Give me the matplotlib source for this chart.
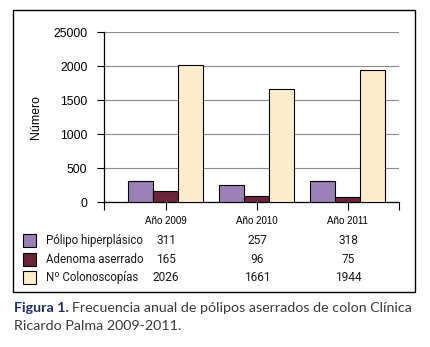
import matplotlib.pyplot as plt
from matplotlib.patches import Rectangle
import numpy as np

years = ['Año 2009', 'Año 2010', 'Año 2011']
series_names = ['Pólipo hiperplásico', 'Adenoma aserrado', 'N\u00ba Colonoscopías']
polipo = [311, 257, 318]
adenoma = [165, 96, 75]
colonoscopias = [2026, 1661, 1944]
series_values = [polipo, adenoma, colonoscopias]
series_colors = ['#9b80b6', '#6c2538', '#fdeccb']
ytick_values = [0, 500, 1000, 1500, 2000, 2500]
ytick_labels = ['0', '500', '1000', '1500', '2000', '25000']

W, H = 430, 347
plt.rcParams['font.family'] = ['Liberation Sans', 'DejaVu Sans']
table_font = ['Roboto', 'Liberation Sans', 'DejaVu Sans']
caption_font = ['Lato', 'DejaVu Sans']


def fx(px):
    return px / W


def fy(py):
    return 1 - py / H


fig = plt.figure(figsize=(W / 100, H / 100), dpi=100)

# outer frame around chart + table
fig.patches.append(Rectangle((fx(12.5), fy(291.5)), fx(415.5) - fx(12.5), fy(10) - fy(291.5),
                             transform=fig.transFigure, fill=False, edgecolor='black', linewidth=1.0))

ax = fig.add_axes([fx(104), fy(202.3), fx(399) - fx(104), fy(32.3) - fy(202.3)])
x = np.arange(len(years))
bw = 0.275
for i, (vals, col) in enumerate(zip(series_values, series_colors)):
    ax.bar(x + (i - 1) * bw, vals, width=bw, color=col, edgecolor='black', linewidth=0.8, zorder=3)

ax.set_xlim(-0.678, 2.564)
ax.set_ylim(0, 2500)
ax.set_yticks(ytick_values)
ax.set_yticklabels(ytick_labels, fontsize=8.8)
ax.yaxis.grid(True, color='#8a8a8a', linewidth=0.8, zorder=0)
ax.set_xticks([-0.678, 0, 1, 2, 2.564])
ax.set_xticklabels(['', *years, ''], fontsize=7)
ax.tick_params(axis='x', length=6, width=0.8, pad=4)
ax.tick_params(axis='y', length=5, width=0.8, pad=7)
for s in ['top', 'right']:
    ax.spines[s].set_visible(False)
for s in ['left', 'bottom']:
    ax.spines[s].set_linewidth(0.9)
ax.set_ylabel('Número', fontsize=8.8, labelpad=8)

# data table under the chart
row_y = [240.7, 259.3, 277.3]
col_x = [166, 257, 348]
for name, vals, col, ry in zip(series_names, series_values, series_colors, row_y):
    fig.patches.append(Rectangle((fx(22.5), fy(ry + 6.5)), fx(13), fy(0) - fy(13),
                                 transform=fig.transFigure, facecolor=col,
                                 edgecolor='black', linewidth=0.8))
    fig.text(fx(46.5), fy(ry), name, fontsize=8.3, family=table_font,
             ha='left', va='center', color='#1a1a1a')
    for v, cx in zip(vals, col_x):
        fig.text(fx(cx), fy(ry), str(v), fontsize=8.6, family=table_font,
                 ha='center', va='center', color='#1a1a1a')

# caption: bold label, then the rest on the same line
renderer = fig.canvas.get_renderer()
lab = fig.text(fx(13.5), fy(308), 'Figura 1.', fontsize=10.25, fontweight='bold', color='#1d2f5c',
               family=caption_font, ha='left', va='center')
bb = lab.get_window_extent(renderer)
fig.text(bb.x1 / W + fx(3.5), fy(308), 'Frecuencia anual de pólipos aserrados de colon Clínica',
         fontsize=10.25, color='#3a3a3a', family=caption_font, ha='left', va='center')
fig.text(fx(13.5), fy(326), 'Ricardo Palma 2009-2011.', fontsize=10.25, color='#3a3a3a',
         family=caption_font, ha='left', va='center')

fig.savefig('out.png', dpi=100)
